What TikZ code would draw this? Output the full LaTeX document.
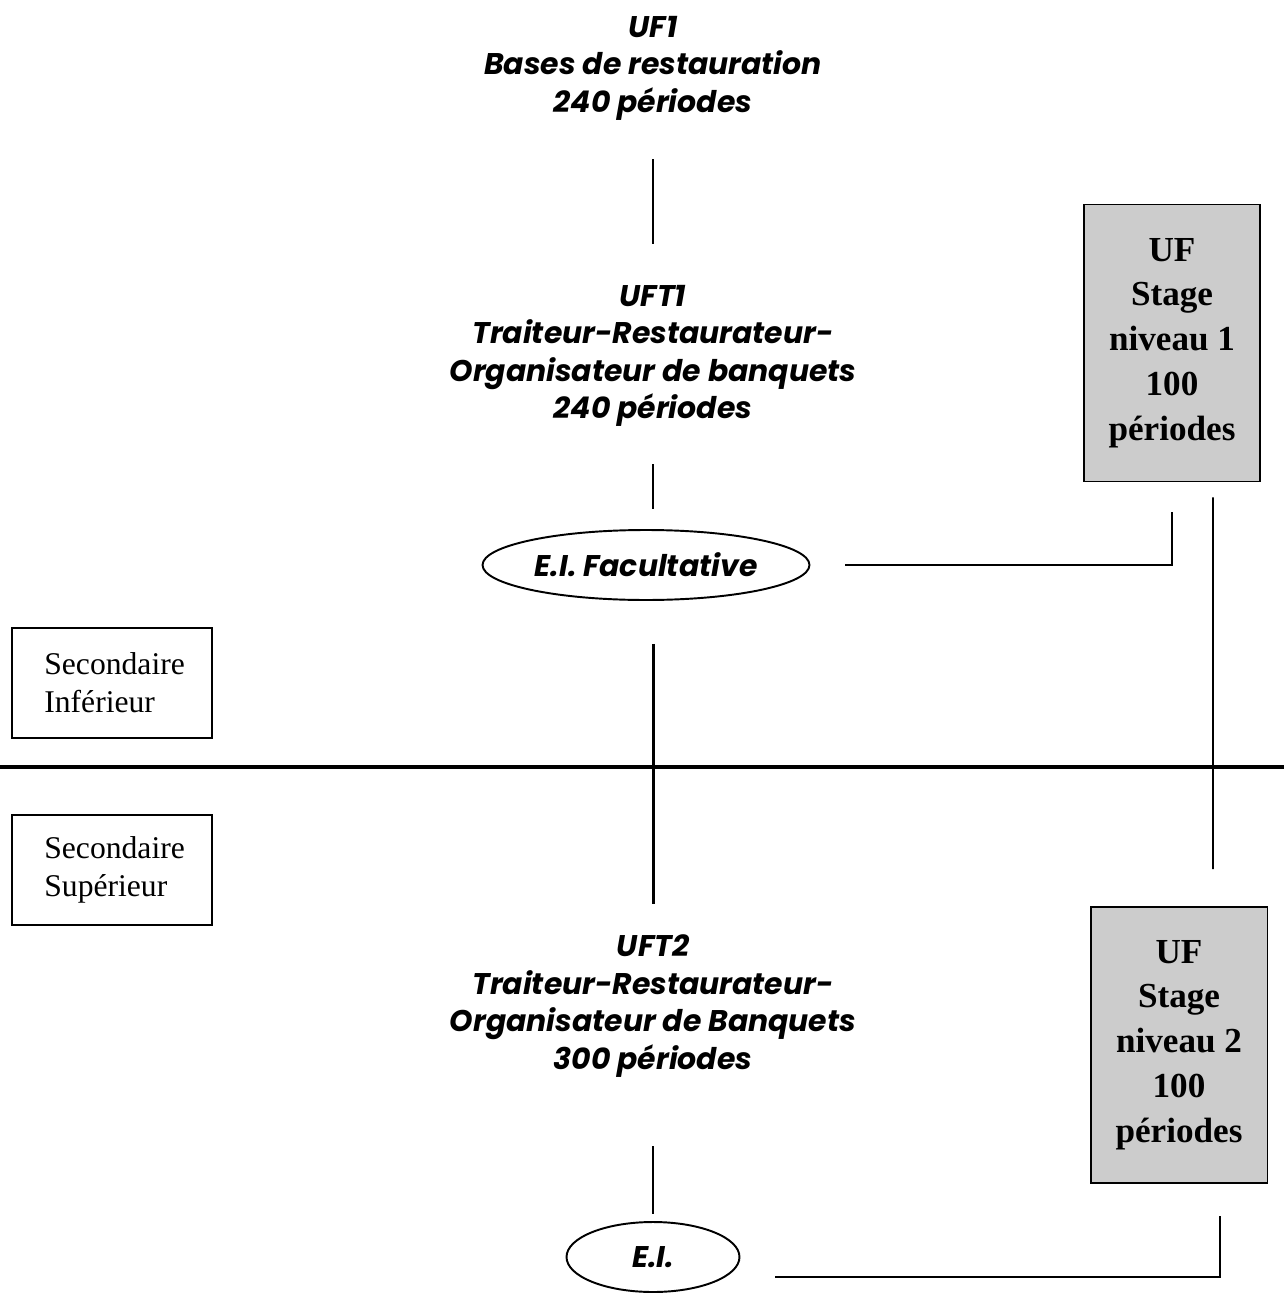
\documentclass[tikz,border=0pt]{standalone}
\usepackage{fontspec}
\setmainfont{Liberation Serif}
\newfontfamily\gothic{Poppins}
\usetikzlibrary{positioning,shapes.geometric}

\tikzset{
  unite/.style={align=center, inner sep=0pt, font=\gothic\bfseries\itshape\fontsize{17}{21.3}\selectfont},
  epreuve/.style={ellipse, draw, line width=1.1pt, inner sep=0pt, minimum height=1.4cm, font=\gothic\bfseries\itshape\fontsize{17}{21}\selectfont},
  stagebox/.style={draw, line width=1.1pt, fill=gray!40, align=center, inner sep=0pt, minimum width=3.52cm, minimum height=5.54cm, font=\bfseries\fontsize{20}{25.5}\selectfont},
  niveaubox/.style={draw, line width=1.1pt, align=left, inner xsep=18.5pt, text width=77pt, minimum height=2.2cm, font=\fontsize{18}{21.5}\selectfont},
  lien/.style={line width=1.1pt}
}

\begin{document}
\begin{tikzpicture}[x=0.02cm, y=-0.02cm]
                \useasboundingbox (0,0) rectangle (1284,1297);

                \node[unite] (uf1) at (653,68) {UF1\\Bases de restauration\\240 périodes};
                \node[unite] (uft1) at (653,356) {UFT1\\Traiteur-Restaurateur-\\Organisateur de banquets\\240 périodes};
                \node[epreuve, minimum width=6.54cm] (ei1) at (646,565) {E.I. Facultative};
                \node[unite] (uft2) at (653,1006) {UFT2\\Traiteur-Restaurateur-\\Organisateur de Banquets\\300 périodes};
                \node[epreuve, minimum width=3.46cm] (ei2) at (653,1257) {E.I.};

                \node[stagebox] (stage1) at (1172,343) {UF\\Stage\\niveau 1\\100\\périodes};
                \node[stagebox, minimum width=3.54cm, minimum height=5.52cm] (stage2) at (1179,1045) {UF\\Stage\\niveau 2\\100\\périodes};

                \node[niveaubox] (secinf) at (112,683) {Secondaire\\Inférieur};
                \node[niveaubox] (secsup) at (112,870) {Secondaire\\Supérieur};

                % separation inferieur / superieur
                \coordinate (gauche) at (0,767);
                \coordinate (droite) at (1284,767);
                \draw[line width=2.3pt] (gauche) -- (droite);

                \path[lien]
                    (uf1.south) edge[shorten <=0.78cm, shorten >=0.82cm] (uft1.north)
                    (uft1.south) edge[shorten <=0.74cm, shorten >=0.4cm] (uft1.south |- ei1.north)
                    (ei1.south -| uft2.north) edge[line width=1.7pt, shorten <=0.86cm, shorten >=0.62cm] (uft2.north)
                    (uft2.south) edge[shorten <=1.38cm, shorten >=0.14cm] (ei2.north)
                    ([xshift=0.82cm]stage1.south) edge[shorten <=0.3cm, shorten >=0.74cm] ([xshift=0.68cm]stage2.north)
                    ;

                \draw[lien, shorten <=0.7cm, shorten >=0.6cm] (ei1.east) -| (stage1.south);
                \draw[lien, shorten <=0.7cm, shorten >=0.64cm] ([yshift=-0.4cm]ei2.east) -| ([xshift=0.82cm]stage2.south);
            \end{tikzpicture}
\end{document}
